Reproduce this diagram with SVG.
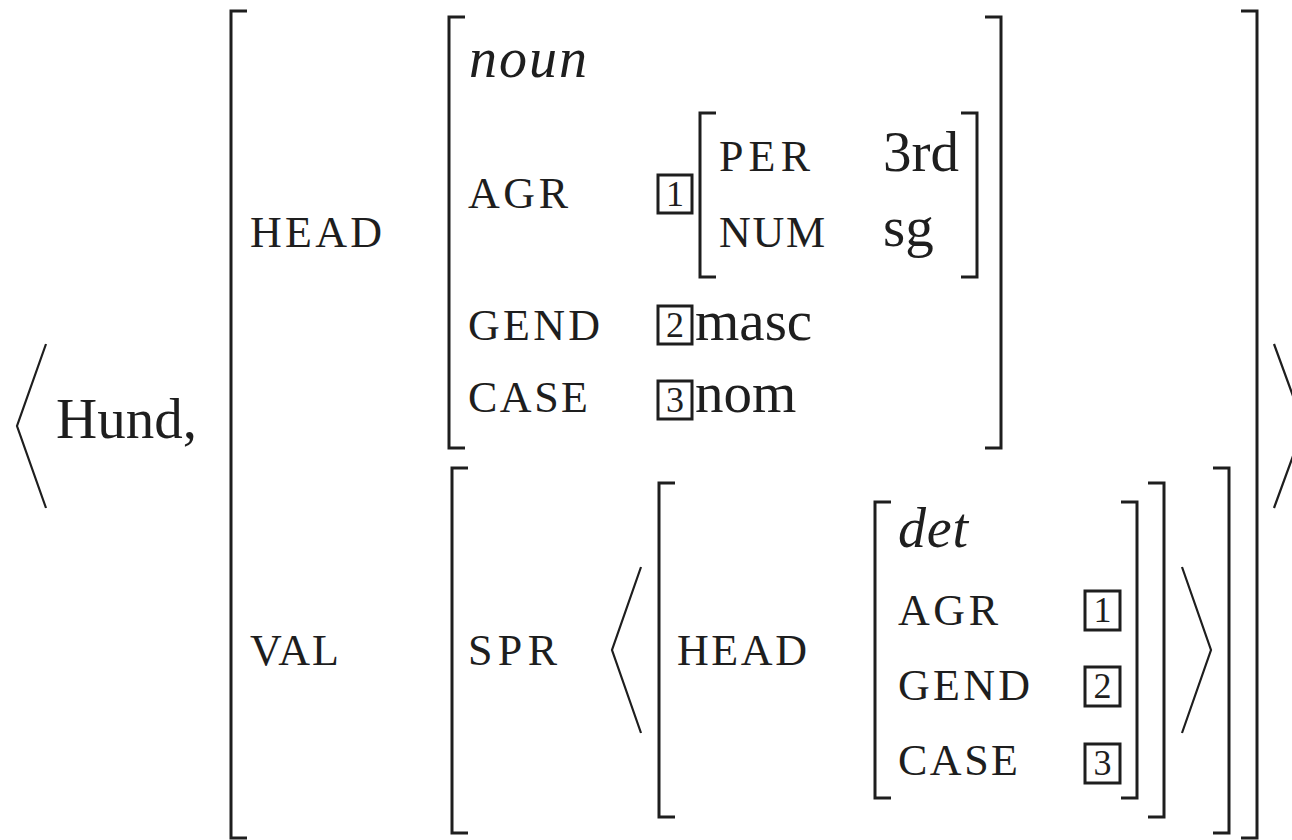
<svg xmlns="http://www.w3.org/2000/svg" width="1292" height="840" viewBox="0 0 1292 840">
<style>
.br{fill:none;stroke:#1e1e1e;stroke-width:3;stroke-linecap:butt;stroke-linejoin:miter}
.ang{fill:none;stroke:#1e1e1e;stroke-width:2.2;stroke-linejoin:miter}
.box{fill:none;stroke:#1e1e1e;stroke-width:3}
.rm{font-family:"Liberation Serif",serif;font-size:57px;fill:#1e1e1e}
.it{font-family:"Liberation Serif",serif;font-style:italic;font-size:56px;fill:#1e1e1e}
.sc{font-family:"Liberation Serif",serif;font-size:44px;fill:#1e1e1e}
.dg{font-family:"Liberation Serif",serif;font-size:36px;fill:#1e1e1e;text-anchor:middle}
</style>
<rect width="1292" height="840" fill="#ffffff"/>
<g id="outer">
  <path class="ang" d="M46,344 L17,426 L46,508"/>
  <text class="rm" x="56" y="438">Hund,</text>
  <path class="br" d="M247,11 H231 V838 H247"/>
  <path class="br" d="M1241,11 H1257 V838 H1241"/>
  <path class="ang" d="M1274,344 L1304,426 L1274,508"/>
  <text class="sc" x="250" y="247" textLength="132" lengthAdjust="spacing">HEAD</text>
  <text class="sc" x="250" y="665" textLength="89" lengthAdjust="spacing">VAL</text>
</g>
<g id="noun-matrix">
  <path class="br" d="M465,17 H449 V448 H465"/>
  <path class="br" d="M985,17 H1001 V448 H985"/>
  <text class="it" x="469" y="77" textLength="118" lengthAdjust="spacing">noun</text>
  <text class="sc" x="468" y="208" textLength="100" lengthAdjust="spacing">AGR</text>
  <text class="sc" x="468" y="340" textLength="132" lengthAdjust="spacing">GEND</text>
  <text class="sc" x="468" y="412" textLength="120" lengthAdjust="spacing">CASE</text>
  <rect class="box" x="658" y="175" width="34" height="38"/>
  <text class="dg" x="675" y="206">1</text>
  <rect class="box" x="658" y="306" width="34" height="38"/>
  <text class="dg" x="675" y="337">2</text>
  <rect class="box" x="658" y="381" width="34" height="38"/>
  <text class="dg" x="675" y="412">3</text>
  <text class="rm" x="695" y="340">masc</text>
  <text class="rm" x="695" y="412">nom</text>
</g>
<g id="agr-matrix">
  <path class="br" d="M716,113 H700 V277 H716"/>
  <path class="br" d="M961,113 H977 V277 H961"/>
  <text class="sc" x="719" y="171" textLength="91" lengthAdjust="spacing">PER</text>
  <text class="sc" x="719" y="247" textLength="106" lengthAdjust="spacing">NUM</text>
  <text class="rm" x="883" y="171">3rd</text>
  <text class="rm" x="883" y="246">sg</text>
</g>
<g id="val-matrix">
  <path class="br" d="M468,468 H452 V833 H468"/>
  <path class="br" d="M1213,468 H1229 V833 H1213"/>
  <text class="sc" x="468" y="665" textLength="89" lengthAdjust="spacing">SPR</text>
  <path class="ang" d="M641,567 L612,650 L641,733"/>
  <path class="ang" d="M1182,567 L1211,650 L1182,733"/>
</g>
<g id="spr-element">
  <path class="br" d="M675,483 H659 V817 H675"/>
  <path class="br" d="M1148,483 H1164 V817 H1148"/>
  <text class="sc" x="677" y="665" textLength="130" lengthAdjust="spacing">HEAD</text>
</g>
<g id="det-matrix">
  <path class="br" d="M891,502 H875 V798 H891"/>
  <path class="br" d="M1121,502 H1137 V798 H1121"/>
  <text class="it" x="898" y="547" textLength="70" lengthAdjust="spacing">det</text>
  <text class="sc" x="898" y="625" textLength="100" lengthAdjust="spacing">AGR</text>
  <text class="sc" x="898" y="700" textLength="132" lengthAdjust="spacing">GEND</text>
  <text class="sc" x="898" y="775" textLength="120" lengthAdjust="spacing">CASE</text>
  <rect class="box" x="1085" y="591" width="35" height="39"/>
  <text class="dg" x="1102.5" y="622">1</text>
  <rect class="box" x="1085" y="667" width="35" height="39"/>
  <text class="dg" x="1102.5" y="698">2</text>
  <rect class="box" x="1085" y="744" width="35" height="39"/>
  <text class="dg" x="1102.5" y="775">3</text>
</g>
<g id="connectors"></g>
</svg>
